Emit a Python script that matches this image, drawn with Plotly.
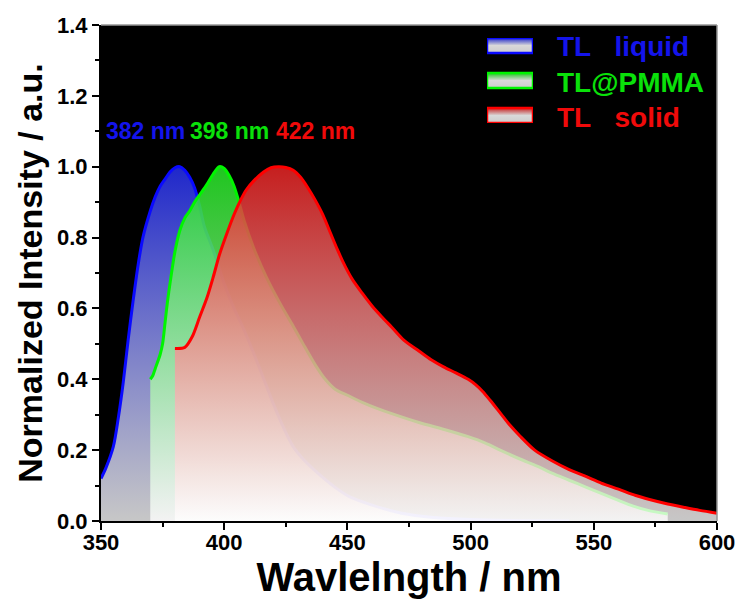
import plotly.graph_objects as go

# ---------------- data ----------------
liquid_x = [350, 352, 355, 357, 359, 361, 363, 365, 367, 370, 372, 374, 376, 378, 380, 382,
            384, 386, 388, 390, 392, 395, 397, 400, 404, 408, 411, 415, 420, 424, 428, 432,
            438, 445, 451, 460, 472, 485, 500, 520, 540]
liquid_y = [0.12, 0.15, 0.21, 0.29, 0.39, 0.51, 0.62, 0.72, 0.80, 0.875, 0.915, 0.945, 0.965, 0.985, 0.997, 1.0,
            0.99, 0.97, 0.94, 0.89, 0.83, 0.775, 0.735, 0.67, 0.60, 0.54, 0.49, 0.42, 0.33, 0.265, 0.21, 0.175,
            0.135, 0.095, 0.068, 0.045, 0.022, 0.01, 0.004, 0.001, 0.0]

pmma_x = [370, 371, 372, 374, 375, 376, 377, 378, 380, 382, 384, 386, 388, 390, 393, 395.6, 398,
          400, 402, 404, 406, 408, 412, 417, 423, 428, 432, 437, 441, 445, 450, 456, 462, 468, 479,
          490, 499, 506, 512, 520, 527, 533, 540, 547, 553, 560, 566, 572, 580]
pmma_y = [0.40, 0.41, 0.43, 0.47, 0.50, 0.56, 0.62, 0.67, 0.76, 0.82, 0.855, 0.875, 0.90, 0.92, 0.95, 0.98, 1.0,
          0.995, 0.975, 0.945, 0.90, 0.85, 0.77, 0.69, 0.61, 0.55, 0.50, 0.44, 0.40, 0.372, 0.355, 0.335, 0.318, 0.303, 0.278,
          0.257, 0.238, 0.22, 0.20, 0.175, 0.155, 0.135, 0.115, 0.095, 0.078, 0.058, 0.042, 0.03, 0.02]

solid_x = [380, 384, 387, 390, 393, 395.6, 398, 401, 404, 406.6, 409, 412, 416, 419, 422, 425, 428,
           431, 434, 437, 440, 443, 446, 449, 452, 456, 460, 464, 468, 473, 479, 484, 489, 494,
           499, 502, 505, 508, 512, 516, 520, 526, 533, 540, 547, 553, 560, 567, 573, 580, 587,
           593, 600]
solid_y = [0.487, 0.49, 0.52, 0.575, 0.63, 0.69, 0.75, 0.81, 0.865, 0.905, 0.935, 0.96, 0.985, 0.997, 1.0, 0.998, 0.99,
           0.97, 0.94, 0.905, 0.865, 0.815, 0.765, 0.72, 0.682, 0.643, 0.607, 0.576, 0.547, 0.51, 0.48, 0.455, 0.435, 0.418,
           0.40, 0.385, 0.365, 0.34, 0.305, 0.27, 0.24, 0.20, 0.17, 0.145, 0.125, 0.107, 0.09, 0.072, 0.06, 0.048, 0.038,
           0.03, 0.022]

series_names = ["TL\u00a0\u00a0\u00a0liquid", "TL@PMMA", "TL\u00a0\u00a0\u00a0solid"]
peak_labels = ["382 nm", "398 nm", "422 nm"]
peak_label_x = [368, 402, 437]

x_ticks = [350, 400, 450, 500, 550, 600]
y_ticks = [0.0, 0.2, 0.4, 0.6, 0.8, 1.0, 1.2, 1.4]

# ---------------- style ----------------
line_colors = ["rgb(10,10,255)", "rgb(0,245,0)", "rgb(255,0,0)"]
top_colors = ["rgba(35,45,230,0.88)", "rgba(35,225,35,0.88)", "rgba(225,35,35,0.88)"]
text_colors = ["rgb(20,20,235)", "rgb(10,225,10)", "rgb(240,10,10)"]
bottom_color = "rgba(255,255,255,0.78)"
FONT = "Arial, Liberation Sans, sans-serif"

fig = go.Figure()

for xs, ys, lc, tc, nm in zip([liquid_x, pmma_x, solid_x], [liquid_y, pmma_y, solid_y],
                              line_colors, top_colors, series_names):
    fig.add_trace(go.Scatter(
        x=xs, y=ys, mode="lines", name=nm, showlegend=False,
        line=dict(color=lc, width=3, shape="spline", smoothing=0.8),
        fill="tozeroy",
        fillgradient=dict(type="vertical", start=0, stop=1,
                          colorscale=[[0, bottom_color], [1, tc]]),
    ))

# ---------------- legend (drawn on an overlay axis pair) ----------------
box_rows = [70, 35, 0]
for row, lc, tc in zip(box_rows, line_colors, top_colors):
    fig.add_trace(go.Scatter(
        x=[0, 1, 1, 0, 0], y=[row, row, row + 15, row + 15, row],
        xaxis="x2", yaxis="y2", mode="lines", showlegend=False, hoverinfo="skip",
        line=dict(color=lc, width=2.5),
        fill="toself",
        fillgradient=dict(type="vertical", start=row, stop=row + 15,
                          colorscale=[[0, "rgba(255,255,255,0.8)"], [0.5, "rgba(255,255,255,0.85)"], [1, tc]]),
    ))

legend_y = [0.9557, 0.885, 0.8145]
for nm, tcol, ly in zip(series_names, text_colors, legend_y):
    fig.add_annotation(x=0.737, y=ly, xref="paper", yref="paper", xanchor="left", yanchor="middle",
                       text="<b>%s</b>" % nm, showarrow=False,
                       font=dict(family=FONT, size=28, color=tcol))

for lbl, lx, tcol in zip(peak_labels, peak_label_x, text_colors):
    fig.add_annotation(x=lx, y=1.1, xref="x", yref="y", text="<b>%s</b>" % lbl, showarrow=False,
                       xanchor="center", yanchor="middle",
                       font=dict(family=FONT, size=23, color=tcol))

# grey top/right frame
fig.add_shape(type="line", xref="paper", yref="paper", x0=0, x1=1, y0=1, y1=1,
              line=dict(color="rgb(150,150,150)", width=1.5), layer="above")
fig.add_shape(type="line", xref="paper", yref="paper", x0=1, x1=1, y0=0, y1=1,
              line=dict(color="rgb(150,150,150)", width=1.5), layer="above")

tickfont = dict(family=FONT, size=22, color="black", weight="bold")

fig.update_layout(
    width=740, height=599,
    margin=dict(l=101, r=23, t=25, b=78, autoexpand=False),
    paper_bgcolor="white", plot_bgcolor="black",
    font=dict(family=FONT, color="black"),
    xaxis=dict(range=[350, 600], tickvals=x_ticks, ticktext=[str(v) for v in x_ticks],
               automargin=False, ticklabelstandoff=-6,
               showgrid=False, zeroline=False, showline=True, linecolor="black", linewidth=2,
               ticks="outside", ticklen=7, tickwidth=2, tickcolor="black",
               tickfont=tickfont,
               minor=dict(ticks="outside", ticklen=4, tickwidth=2, tickcolor="black", dtick=25),
               title=dict(text="<b>Wavlelngth / nm</b>", font=dict(family=FONT, size=40, color="black"),
                          standoff=4)),
    yaxis=dict(range=[0, 1.4], tickvals=y_ticks, ticktext=["%.1f" % v for v in y_ticks],
               automargin=False,
               showgrid=False, zeroline=False, showline=True, linecolor="black", linewidth=2,
               ticks="outside", ticklen=7, tickwidth=2, tickcolor="black",
               tickfont=tickfont,
               minor=dict(ticks="outside", ticklen=4, tickwidth=2, tickcolor="black", dtick=0.1),
               title=dict(text="<b>Normalized Intensity / a.u.</b>", font=dict(family=FONT, size=34, color="black"),
                          standoff=4)),
    xaxis2=dict(domain=[0.6266, 0.7013], range=[0, 1], anchor="y2", visible=False, fixedrange=True),
    yaxis2=dict(domain=[0.8024, 0.9738], range=[0, 85], anchor="x2", visible=False, fixedrange=True),
    showlegend=False,
)

fig.write_html("out.html")
